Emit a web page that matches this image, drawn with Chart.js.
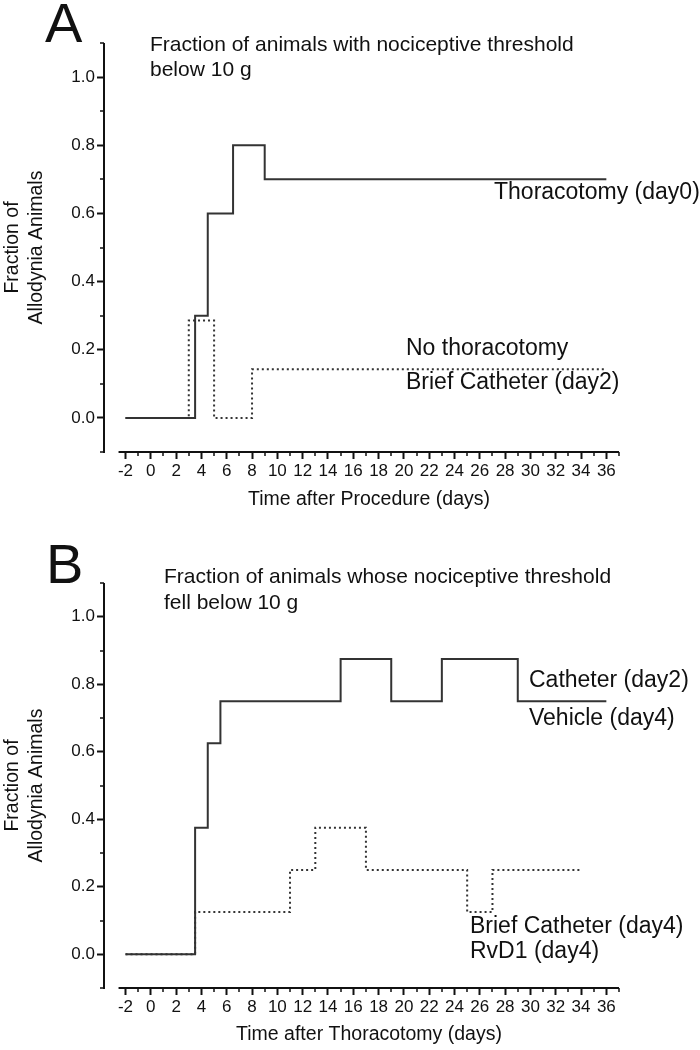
<!DOCTYPE html>
<html>
<head>
<meta charset="utf-8">
<script src="https://cdn.jsdelivr.net/npm/chart.js@4.4.1/dist/chart.umd.min.js"></script>
<style>
  html, body { margin: 0; padding: 0; background: #fff; }
  .panel { position: relative; width: 700px; height: 525px; }
</style>
</head>
<body>
<div class="panel"><canvas id="chartA"></canvas></div>
<div class="panel"><canvas id="chartB"></canvas></div>
<script>
// Panel A: time after procedure
const daysThoracotomy = [-2, 3.5, 4.5, 6.5, 9, 36];
const fracThoracotomy = [0, 0.3, 0.6, 0.8, 0.7, 0.7];
const daysNoThoracotomy = [-2, 3, 5, 8, 36];
const fracNoThoracotomy = [0, 0.286, 0, 0.143, 0.143];

// Panel B: time after thoracotomy
const daysVehicle = [-2, 3.5, 4.5, 5.5, 15, 19, 23, 29, 36];
const fracVehicle = [0, 0.375, 0.625, 0.75, 0.875, 0.75, 0.875, 0.75, 0.75];
const daysRvD1 = [-2, 3.5, 11, 13, 17, 25, 27, 34];
const fracRvD1 = [0, 0.125, 0.25, 0.375, 0.25, 0.125, 0.25, 0.25];

// Axis ticks
const xMajorTicks = [-2, 0, 2, 4, 6, 8, 10, 12, 14, 16, 18, 20, 22, 24, 26, 28, 30, 32, 34, 36];
const xMinorTicks = [-1, 1, 3, 5, 7, 9, 11, 13, 15, 17, 19, 21, 23, 25, 27, 29, 31, 33, 35, 37];
const yMajorTicks = [0, 0.2, 0.4, 0.6, 0.8, 1.0];
const yMinorTicks = [-0.1, 0.1, 0.3, 0.5, 0.7, 0.9, 1.1];

const FONT = "'Liberation Sans', Arial, Helvetica, sans-serif";
const INK = '#111';
const LINE = '#333';

function toPoints(xs, ys) {
    return xs.map((x, i) => ({ x: x, y: ys[i] }));
}

// Axis lines, minor ticks and the free text of each panel
const framePlugin = {
    id: 'frame',
    afterDraw(chart, args, opts) {
        const ctx = chart.ctx;
        const xs = chart.scales.x, ys = chart.scales.y;
        const area = chart.chartArea;
        ctx.save();
        ctx.strokeStyle = INK;
        ctx.lineWidth = 2;
        ctx.beginPath();
        ctx.moveTo(area.left, area.top);
        ctx.lineTo(area.left, area.bottom + 1);
        ctx.moveTo(xs.getPixelForValue(-2.55), area.bottom);
        ctx.lineTo(area.right, area.bottom);
        ctx.stroke();

        ctx.lineWidth = 1.5;
        ctx.beginPath();
        yMinorTicks.forEach(v => {
            const py = Math.round(ys.getPixelForValue(v));
            ctx.moveTo(area.left, py);
            ctx.lineTo(area.left - 4, py);
        });
        xMinorTicks.forEach(v => {
            const px = Math.round(xs.getPixelForValue(v));
            ctx.moveTo(px, area.bottom);
            ctx.lineTo(px, area.bottom + 4);
        });
        ctx.stroke();

        ctx.fillStyle = INK;
        ctx.textBaseline = 'alphabetic';
        ctx.textAlign = 'left';
        ctx.font = '56px ' + FONT;
        ctx.fillText(opts.letter, opts.letterX, opts.letterY);

        ctx.textBaseline = 'middle';
        opts.texts.forEach(t => {
            ctx.font = t.size + 'px ' + FONT;
            ctx.textAlign = t.align || 'left';
            ctx.fillText(t.text, t.x, t.y);
        });
        ctx.restore();
    }
};

function makePanel(id, datasets, areaTop, xAxisHeight, frame) {
    return new Chart(document.getElementById(id), {
        type: 'scatter',
        data: { datasets: datasets },
        options: {
            responsive: true,
            maintainAspectRatio: false,
            animation: false,
            layout: { padding: { left: 0, top: areaTop, right: 81, bottom: 0 } },
            plugins: {
                legend: { display: false },
                tooltip: { enabled: false },
                frame: frame
            },
            elements: { point: { radius: 0, hoverRadius: 0 } },
            scales: {
                x: {
                    type: 'linear',
                    min: -3.7,
                    max: 37,
                    afterBuildTicks: s => { s.ticks = xMajorTicks.map(v => ({ value: v })); },
                    afterFit: s => { s.height = xAxisHeight; },
                    border: { display: false },
                    grid: { drawOnChartArea: false, drawTicks: true, tickLength: 7, tickWidth: 2, tickColor: INK },
                    ticks: { color: INK, padding: 2, maxRotation: 0, autoSkip: false,
                             font: { family: FONT, size: 17 },
                             callback: v => String(v) }
                },
                y: {
                    min: -0.1,
                    max: 1.1,
                    afterBuildTicks: s => { s.ticks = yMajorTicks.map(v => ({ value: v })); },
                    afterFit: s => { s.width = 104; },
                    border: { display: false },
                    grid: { drawOnChartArea: false, drawTicks: true, tickLength: 7, tickWidth: 2, tickColor: INK },
                    ticks: { color: INK, padding: 2, autoSkip: false,
                             font: { family: FONT, size: 17 },
                             callback: v => v.toFixed(1) },
                    title: {
                        display: true,
                        text: ['Fraction of', 'Allodynia Animals'],
                        color: INK,
                        font: { family: FONT, size: 19.5, lineHeight: 1.23 },
                        padding: { top: 1, bottom: 0 }
                    }
                }
            }
        },
        plugins: [framePlugin]
    });
}

function solidSeries(label, xs, ys) {
    return { label: label, data: toPoints(xs, ys), showLine: true, stepped: true,
             borderColor: LINE, borderWidth: 2, fill: false };
}

function dottedSeries(label, xs, ys) {
    return { label: label, data: toPoints(xs, ys), showLine: true, stepped: true,
             borderColor: LINE, borderWidth: 2, borderDash: [2, 3], fill: false };
}

makePanel('chartA', [
    solidSeries('Thoracotomy (day0)', daysThoracotomy, fracThoracotomy),
    dottedSeries('No thoracotomy / Brief Catheter (day2)', daysNoThoracotomy, fracNoThoracotomy)
], 43, 73, {
    letter: 'A', letterX: 45, letterY: 42,
    texts: [
        { text: 'Fraction of animals with nociceptive threshold', x: 150, y: 45, size: 21 },
        { text: 'below 10 g', x: 150, y: 70, size: 21 },
        { text: 'Thoracotomy (day0)', x: 494, y: 193, size: 23 },
        { text: 'No thoracotomy', x: 406, y: 349, size: 23 },
        { text: 'Brief Catheter (day2)', x: 406, y: 383, size: 23 },
        { text: 'Time after Procedure (days)', x: 369, y: 500, size: 19.5, align: 'center' }
    ]
});

makePanel('chartB', [
    solidSeries('Catheter (day2) / Vehicle (day4)', daysVehicle, fracVehicle),
    dottedSeries('Brief Catheter (day4) / RvD1 (day4)', daysRvD1, fracRvD1)
], 58, 62, {
    letter: 'B', letterX: 46, letterY: 58,
    texts: [
        { text: 'Fraction of animals whose nociceptive threshold', x: 164, y: 52, size: 21 },
        { text: 'fell below 10 g', x: 164, y: 78, size: 21 },
        { text: 'Catheter (day2)', x: 529, y: 156, size: 23 },
        { text: 'Vehicle (day4)', x: 529, y: 194, size: 23 },
        { text: 'Brief Catheter (day4)', x: 470, y: 402, size: 23 },
        { text: 'RvD1 (day4)', x: 470, y: 427, size: 23 },
        { text: 'Time after Thoracotomy (days)', x: 369, y: 510, size: 19.5, align: 'center' }
    ]
});
</script>
</body>
</html>
